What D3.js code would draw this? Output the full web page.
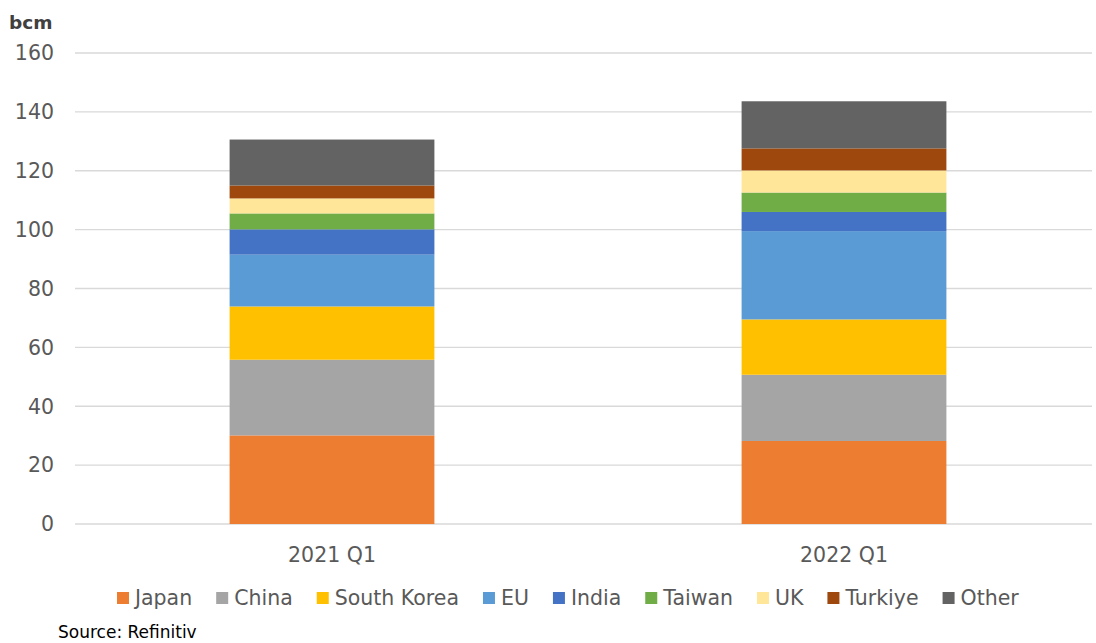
<!DOCTYPE html>
<html><head><meta charset="utf-8">
<script src="https://cdn.jsdelivr.net/npm/d3@7"></script>
<style>body{margin:0;background:#fff}svg{display:block}</style>
</head><body>
<svg id="c" width="1096" height="643"></svg>
<script>
const categories = ["2021 Q1", "2022 Q1"];
const seriesNames = ["Japan","China","South Korea","EU","India","Taiwan","UK","Turkiye","Other"];
const japan      = [30.1, 28.2];
const china      = [25.7, 22.5];
const southKorea = [18.1, 18.8];
const eu         = [17.6, 30.0];
const india      = [8.6, 6.5];
const taiwan     = [5.4, 6.6];
const uk         = [5.1, 7.5];
const turkiye    = [4.4, 7.5];
const other      = [15.6, 16.0];
const yTicks = [0,20,40,60,80,100,120,140,160];
const colors = ["#ED7D31","#A5A5A5","#FFC000","#5B9BD5","#4472C4","#70AD47","#FFE699","#9E480E","#636363"];

const seriesVals = [japan,china,southKorea,eu,india,taiwan,uk,turkiye,other];
const rows = categories.map((c,i)=>{const r={cat:c}; seriesNames.forEach((s,j)=>r[s]=seriesVals[j][i]); return r;});
const stack = d3.stack().keys(seriesNames)(rows);

const svg = d3.select("#c");
const font = "'DejaVu Sans', sans-serif";
const x = d3.scaleBand().domain(categories).range([76,1100]).padding(0);
const y = d3.scaleLinear().domain([0,160]).range([524,53]);
const barW = x.bandwidth()*0.4;

// gridlines
svg.append("g").selectAll("line").data(yTicks).join("line")
  .attr("x1",75).attr("x2",1092).attr("y1",d=>y(d)).attr("y2",d=>y(d))
  .attr("stroke","#d9d9d9").attr("stroke-width",1.3);

// y labels
const yAxis = d3.axisLeft(y).tickValues(yTicks).tickSize(0).tickPadding(0);
const gy = svg.append("g").attr("transform","translate(54,0)").call(yAxis);
gy.select(".domain").remove();
gy.selectAll("text").attr("font-family",font).attr("font-size",20.5).attr("fill","#595959").attr("dy","0.33em");

// bars
svg.append("g").selectAll("g").data(stack).join("g").attr("fill",(d,i)=>colors[i])
  .selectAll("rect").data(d=>d).join("rect")
  .attr("x",d=>x(d.data.cat)+(x.bandwidth()-barW)/2)
  .attr("width",barW)
  .attr("y",d=>y(d[1])).attr("height",d=>y(d[0])-y(d[1]));

// x labels
const xAxis = d3.axisBottom(x).tickSize(0).tickPadding(0);
const gx = svg.append("g").attr("transform","translate(0,562)").call(xAxis);
gx.select(".domain").remove();
gx.selectAll("text").attr("font-family",font).attr("font-size",20.5).attr("fill","#595959").attr("dy",0);

// unit label
svg.append("text").attr("x",9).attr("y",29).text("bcm")
  .attr("font-family",font).attr("font-size",18.5).attr("font-weight","bold").attr("fill","#404040");

// legend
const lg = svg.append("g");
let cx = 0;
seriesNames.forEach((s,i)=>{
  const g = lg.append("g");
  g.append("rect").attr("x",0).attr("y",-13).attr("width",12).attr("height",12).attr("fill",colors[i]);
  const t = g.append("text").attr("x",18).attr("y",0).text(s)
    .attr("font-family",font).attr("font-size",20.5).attr("fill","#595959");
  const w = 18 + t.node().getComputedTextLength();
  g.attr("transform",`translate(${cx},0)`);
  cx += w + 24;
});
lg.attr("transform",`translate(117,605)`);

svg.append("text").attr("x",58).attr("y",638).text("Source: Refinitiv")
  .attr("font-family",font).attr("font-size",17).attr("fill","#000");
</script>
</body></html>
